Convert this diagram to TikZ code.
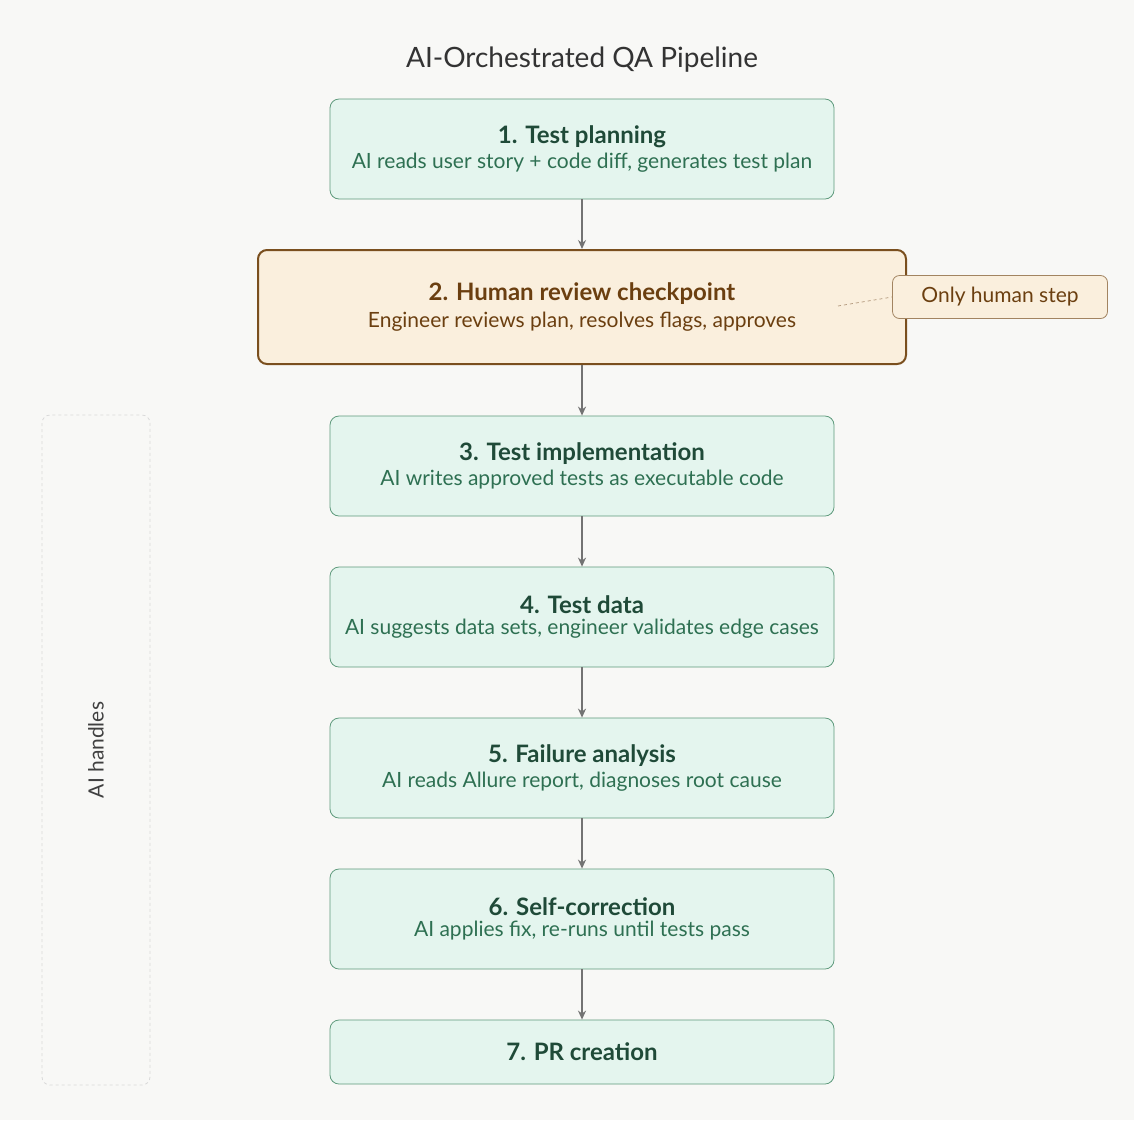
\documentclass[tikz,border=0pt]{standalone}
\usepackage{fontspec}
\setmainfont{Lato}
\usetikzlibrary{arrows.meta}
\definecolor{bgc}{HTML}{F8F8F6}
\definecolor{aifill}{HTML}{E4F5EE}
\definecolor{aidraw}{HTML}{5E9A7C}
\definecolor{aititle}{HTML}{1F4A38}
\definecolor{aitext}{HTML}{2E7052}
\definecolor{hufill}{HTML}{FAEFDD}
\definecolor{hudraw}{HTML}{7A4F1E}
\definecolor{hutext}{HTML}{6B3F10}
\definecolor{arrowc}{HTML}{737373}
\tikzset{
  stage/.style={draw=aidraw, fill=aifill, rounded corners=9pt, line width=0.8pt,
    minimum width=504pt, align=center, inner sep=0pt},
  human/.style={draw=hudraw, fill=hufill, rounded corners=9pt, line width=2pt,
    minimum width=648pt, minimum height=114pt, align=center, inner sep=0pt},
  flow/.style={draw=arrowc, line width=1.4pt, -{Stealth[length=9pt,width=8pt]}},
}
\newcommand{\stagename}[2]{{\fontsize{24}{30}\selectfont\bfseries\color{aititle}#1}\\[4pt]{\fontsize{21}{26}\selectfont\color{aitext}#2}}
\begin{document}
\begin{tikzpicture}[x=1pt, y=-1pt]
  \fill[bgc] (0,0) rectangle (1134,1120);
  \useasboundingbox (0,0) rectangle (1134,1120);

  % Title
  \node (title) at (582,60) {\fontsize{28}{34}\selectfont\color{black!80}AI-Orchestrated QA Pipeline};

  % Side band
  \draw[black!15, dashed, rounded corners=8pt, line width=0.8pt] (42,415) rectangle (150,1085);
  \node[rotate=90, font=\fontsize{21}{26}\selectfont, text=black!75] (band) at (96,750) {AI handles};

  % Stages
  \node[stage, minimum height=100pt] (plan) at (582,149) {\stagename{1. Test planning}{AI reads user story + code diff, generates test plan}};
  \node[human] (review) at (582,307) {{\fontsize{24}{30}\selectfont\bfseries\color{hutext}2. Human review checkpoint}\\[6pt]{\fontsize{21}{26}\selectfont\color{hutext}Engineer reviews plan, resolves flags, approves}};
  \node[stage, minimum height=100pt] (impl) at (582,466) {\stagename{3. Test implementation}{AI writes approved tests as executable code}};
  \node[stage, minimum height=100pt] (data) at (582,617) {\stagename{4. Test data}{AI suggests data sets, engineer validates edge cases}};
  \node[stage, minimum height=100pt] (fail) at (582,768) {\stagename{5. Failure analysis}{AI reads Allure report, diagnoses root cause}};
  \node[stage, minimum height=100pt] (fix) at (582,919) {\stagename{6. Self-correction}{AI applies fix, re-runs until tests pass}};
  \node[stage, minimum height=64pt] (pr) at (582,1052) {{\fontsize{24}{30}\selectfont\bfseries\color{aititle}7. PR creation}};

  % Callout
  \node[draw=hudraw!70, fill=hufill, rounded corners=7pt, line width=0.8pt,
    minimum width=215pt, minimum height=43pt, font=\fontsize{21}{26}\selectfont, text=hutext] (only) at (1000,297) {Only human step};
  \coordinate (tip) at (838,306);
  \draw[hudraw!60, dashed, line width=0.7pt] (tip) -- (only.west);

  % Flow
  \draw[flow] (plan) -- (review);
  \draw[flow] (review) -- (impl);
  \draw[flow] (impl) -- (data);
  \draw[flow] (data) -- (fail);
  \draw[flow] (fail) -- (fix);
  \draw[flow] (fix) -- (pr);
\end{tikzpicture}
\end{document}
